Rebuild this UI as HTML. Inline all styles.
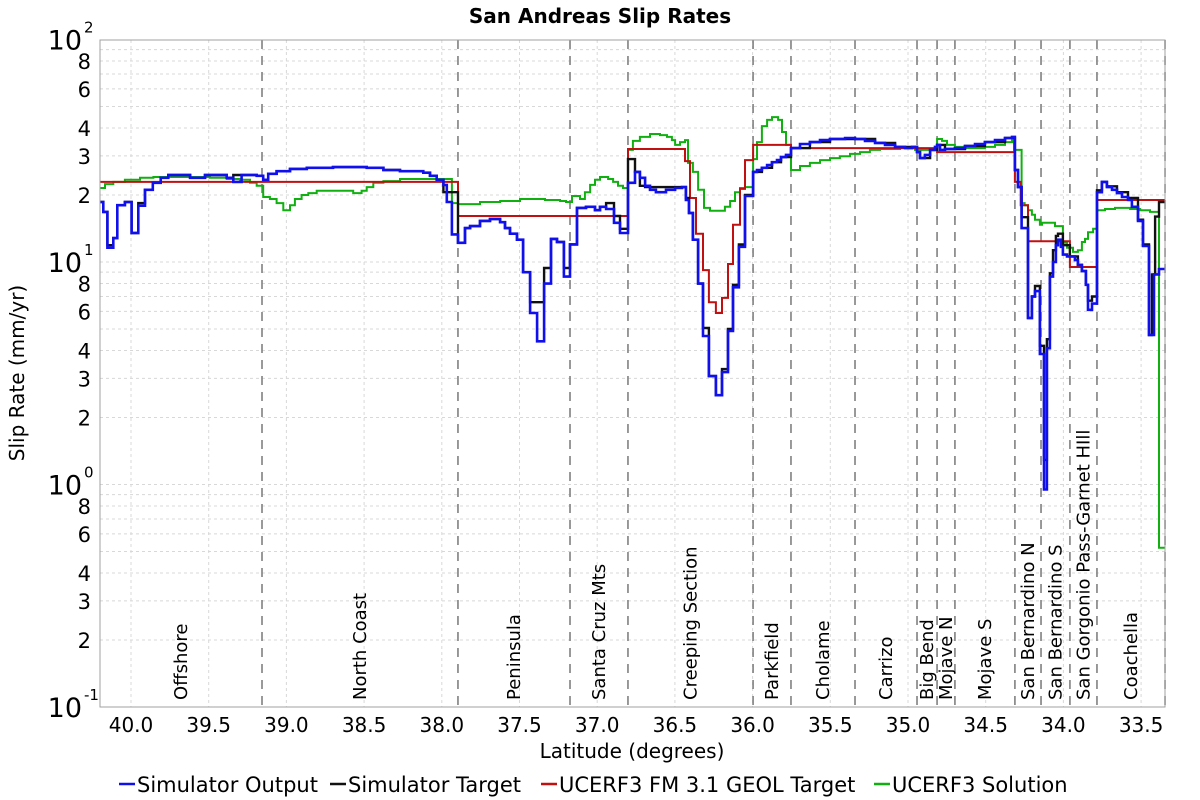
<!DOCTYPE html>
<html><head><meta charset="utf-8"><style>
html,body{margin:0;padding:0;background:#fff;}
svg{display:block;font-family:"DejaVu Sans","Liberation Sans",sans-serif;}
</style></head><body>
<svg id="chart" width="1200" height="800" viewBox="0 0 1200 800" xmlns="http://www.w3.org/2000/svg">
<rect x="0" y="0" width="1200" height="800" fill="#fff"/>
<text x="600" y="23" text-anchor="middle" font-size="20" font-weight="bold">San Andreas Slip Rates</text>
<g id="grid"></g><g id="sections"></g><g id="series"></g><g id="axes"></g>
<text x="632" y="758" text-anchor="middle" font-size="20">Latitude (degrees)</text>
<text transform="translate(24,373) rotate(-90)" text-anchor="middle" font-size="20">Slip Rate (mm/yr)</text>
<g id="legend"></g>
</svg>
<script>
const sectionNames=["Offshore","North Coast","Peninsula","Santa Cruz Mts","Creeping Section","Parkfield","Cholame","Carrizo","Big Bend","Mojave N","Mojave S","San Bernardino N","San Bernardino S","San Gorgonio Pass-Garnet HIll","Coachella"];
const sectionBounds=[40.20,39.157,37.896,37.175,36.802,35.997,35.753,35.341,34.942,34.813,34.698,34.312,34.144,33.958,33.784,33.346];
const xTicks=[40.0,39.5,39.0,38.5,38.0,37.5,37.0,36.5,36.0,35.5,35.0,34.5,34.0,33.5];
const simOutLat=[40.20,40.178,40.152,40.114,40.088,40.039,39.996,39.953,39.910,39.860,39.809,39.760,39.620,39.524,39.384,39.342,39.288,39.191,39.149,39.117,39.063,38.977,38.869,38.700,38.483,38.376,38.269,38.119,38.076,38.033,37.990,37.968,37.935,37.896,37.851,37.818,37.754,37.690,37.625,37.593,37.561,37.516,37.477,37.432,37.387,37.342,37.297,37.259,37.214,37.175,37.130,37.072,37.014,36.982,36.943,36.892,36.853,36.802,36.757,36.725,36.692,36.660,36.622,36.557,36.499,36.454,36.429,36.409,36.384,36.351,36.319,36.281,36.236,36.197,36.158,36.126,36.088,36.049,35.997,35.972,35.940,35.907,35.875,35.843,35.817,35.785,35.753,35.695,35.631,35.566,35.502,35.405,35.341,35.277,35.212,35.148,35.083,35.019,34.974,34.942,34.923,34.891,34.858,34.826,34.813,34.794,34.762,34.698,34.633,34.569,34.505,34.440,34.376,34.331,34.312,34.292,34.269,34.228,34.203,34.183,34.151,34.125,34.106,34.087,34.067,34.048,34.035,34.016,34.003,33.977,33.926,33.907,33.881,33.855,33.842,33.816,33.784,33.752,33.720,33.687,33.655,33.623,33.584,33.559,33.520,33.488,33.449,33.417,33.385,33.346];
const simOutVal=[18.6,16.8,11.6,12.8,18.0,18.6,13.5,17.9,21.1,22.7,23.9,24.6,23.9,24.6,23.9,22.9,24.6,24.4,23.4,24.9,25.6,26.2,26.5,26.7,26.5,25.9,25.6,25.2,24.4,23.4,22.2,18.6,13.3,12.2,14.2,14.5,15.3,15.6,15.1,14.2,13.4,12.6,9.0,5.9,4.4,8.0,12.7,12.3,8.6,12.0,17.5,17.7,17.1,17.7,17.3,15.0,13.5,22.7,25.4,23.9,22.0,21.1,20.6,21.1,21.5,21.7,19.0,16.6,12.6,8.0,4.65,3.07,2.52,3.2,4.9,7.7,11.7,19.8,25.4,25.9,26.5,27.3,28.1,28.7,29.6,30.3,32.5,33.9,34.6,35.3,35.7,36.1,35.7,35.0,34.3,33.6,32.9,32.5,32.9,31.2,29.3,30.3,31.9,32.9,33.6,31.9,32.2,32.5,33.2,33.9,34.6,35.3,36.1,36.5,25.9,21.7,14.2,5.6,7.0,7.4,3.86,0.95,4.1,8.6,10.0,11.9,12.6,11.7,10.8,10.6,10.2,9.7,9.1,7.9,6.1,6.5,20.6,22.9,21.7,21.1,20.4,19.6,19.0,17.7,15.3,11.8,4.7,8.8,9.3,9.3];
const simTgtLat=[40.20,40.178,40.152,40.114,40.088,40.039,39.996,39.953,39.910,39.860,39.809,39.760,39.620,39.524,39.384,39.342,39.288,39.191,39.149,39.117,39.063,38.977,38.869,38.700,38.483,38.376,38.269,38.119,38.076,38.033,37.990,37.896,37.851,37.818,37.754,37.690,37.625,37.593,37.561,37.516,37.477,37.432,37.342,37.297,37.259,37.214,37.175,37.130,37.072,37.014,36.982,36.943,36.892,36.853,36.802,36.757,36.725,36.692,36.454,36.429,36.409,36.384,36.351,36.319,36.281,36.236,36.197,36.158,36.126,36.088,36.049,35.997,35.940,35.875,35.817,35.753,35.631,35.502,35.341,35.212,35.083,34.942,34.923,34.858,34.813,34.762,34.633,34.505,34.376,34.312,34.292,34.269,34.228,34.203,34.183,34.151,34.125,34.106,34.087,34.067,34.048,34.035,34.003,33.958,33.907,33.881,33.855,33.842,33.816,33.784,33.752,33.720,33.655,33.584,33.520,33.488,33.449,33.430,33.410,33.385,33.346];
const simTgtVal=[18.6,16.8,11.9,12.8,18.0,18.6,13.5,18.4,21.1,22.7,23.9,24.6,23.9,24.6,23.9,24.6,24.6,24.4,23.4,24.9,25.6,26.2,26.5,26.7,26.5,25.9,25.6,25.2,24.4,23.4,20.6,12.2,14.2,14.5,15.3,15.6,15.1,14.2,13.4,12.6,9.0,6.6,9.4,12.7,12.3,9.4,12.0,17.5,17.7,17.1,17.7,18.4,16.1,14.1,29.0,25.4,22.0,21.7,21.7,19.4,16.6,12.6,8.0,5.05,3.07,2.52,3.3,5.0,7.9,12.0,20.0,25.4,26.5,28.1,29.6,32.5,34.6,35.7,35.7,34.3,32.9,31.2,29.3,31.9,33.6,32.2,33.2,34.6,36.1,25.9,21.7,15.9,5.6,7.0,7.8,4.2,1.29,4.5,8.9,11.3,13.1,13.4,11.9,10.6,9.7,9.1,7.9,6.7,7.0,21.0,22.9,21.9,20.6,19.4,15.5,12.0,4.7,8.8,16.0,18.6,18.6];
const geolLat=[40.20,37.896,36.802,36.435,36.403,36.364,36.319,36.281,36.236,36.197,36.158,36.126,36.081,36.049,35.997,35.753,34.813,34.312,34.275,34.228,33.958,33.784,33.346];
const geolVal=[22.9,16.1,32.2,28.4,19.4,13.4,9.2,6.6,5.9,6.9,9.8,14.7,21.3,28.7,33.6,32.5,31.2,22.9,18.0,12.4,9.5,19.0,19.0];
const solLat=[40.20,40.167,40.114,40.039,39.942,39.856,39.492,39.384,39.299,39.234,39.191,39.149,39.106,39.063,39.020,38.977,38.945,38.902,38.859,38.805,38.570,38.516,38.483,38.441,38.376,38.269,37.935,37.896,37.754,37.625,37.497,37.336,37.239,37.201,37.162,37.111,37.079,37.046,37.014,36.982,36.930,36.898,36.866,36.834,36.802,36.770,36.725,36.660,36.596,36.551,36.519,36.499,36.467,36.435,36.416,36.384,36.351,36.313,36.274,36.178,36.145,36.113,36.081,36.049,35.997,35.972,35.940,35.907,35.875,35.836,35.811,35.785,35.753,35.695,35.631,35.566,35.502,35.438,35.373,35.309,35.245,35.180,35.051,34.955,34.813,34.781,34.749,34.698,34.633,34.505,34.440,34.376,34.331,34.318,34.269,34.250,34.228,34.203,34.183,34.151,34.138,34.054,34.003,33.977,33.938,33.907,33.881,33.861,33.842,33.809,33.784,33.732,33.668,33.571,33.507,33.443,33.385,33.346];
const solVal=[21.5,22.4,22.9,23.4,23.9,24.1,23.9,23.6,23.4,22.7,22.0,19.6,19.2,18.4,17.1,18.0,19.2,20.0,20.4,20.9,20.4,20.9,21.7,22.7,23.1,23.6,18.4,18.2,18.6,18.8,19.2,19.0,18.8,18.6,19.8,19.2,20.6,22.2,23.4,24.1,23.6,22.9,22.0,21.5,31.9,35.0,36.5,37.6,37.2,36.5,35.3,33.6,34.6,35.3,27.9,25.4,21.1,17.5,17.0,17.7,18.8,20.6,21.5,21.7,29.0,34.6,40.8,43.5,44.8,43.5,38.4,33.6,25.9,27.0,27.9,28.7,29.3,29.9,30.6,31.2,31.9,32.2,32.5,31.9,35.7,35.0,33.6,32.9,32.5,32.9,33.6,34.6,35.3,31.9,18.4,18.0,17.1,16.3,15.5,14.7,15.0,14.5,12.2,11.6,11.1,11.3,12.3,12.7,13.6,14.1,17.1,17.3,17.5,17.3,17.1,16.8,0.52,0.52];
const yTickVals=[0.1,1,10,100];
const yTickExp=["-1","0","1","2"];

const NS="http://www.w3.org/2000/svg";
const L=100,R=1165,T=40,B=707;
const xs=lat=>131+(40-lat)*155.4;
const ys=v=>262-(Math.log10(v)-1)*222.5;
function mk(tag,attrs,parent){const e=document.createElementNS(NS,tag);for(const k in attrs)e.setAttribute(k,attrs[k]);parent.appendChild(e);return e;}
const grid=document.getElementById('grid'),sec=document.getElementById('sections'),ser=document.getElementById('series'),ax=document.getElementById('axes'),leg=document.getElementById('legend');

xTicks.forEach(t=>{const l=mk('line',{x1:xs(t),x2:xs(t),y1:T,y2:B,stroke:'#d8d8d8','stroke-dasharray':'3,3'},grid);

});
for(let d=-1;d<2;d++){for(let m=2;m<=9;m++){const v=m*Math.pow(10,d);const l=mk('line',{x1:L,x2:R,y1:ys(v),y2:ys(v),stroke:'#d8d8d8','stroke-dasharray':'3,3'},grid);

}}
yTickVals.forEach(v=>{if(v<100&&v>0.1){const l=mk('line',{x1:L,x2:R,y1:ys(v),y2:ys(v),stroke:'#d8d8d8','stroke-dasharray':'3,3'},grid);

}});

for(let i=1;i<sectionBounds.length;i++){const x=xs(sectionBounds[i]);const l=mk('line',{x1:x,x2:x,y1:T,y2:B,stroke:'#808080','stroke-width':1.6,'stroke-dasharray':'9,7'},sec);

}
sectionNames.forEach((n,i)=>{const xm=(xs(sectionBounds[i])+xs(sectionBounds[i+1]))/2+6;const t=mk('text',{transform:`translate(${xm},700) rotate(-90)`,'font-size':18},sec);t.textContent=n;

});

function step(lats,vals,color,w,name){let d='';for(let i=0;i<lats.length-1;i++){const x0=xs(lats[i]),x1=xs(lats[i+1]),y=ys(vals[i]);d+=(i===0?'M':'L')+x0.toFixed(1)+','+y.toFixed(1)+'L'+x1.toFixed(1)+','+y.toFixed(1);}
const p=mk('path',{d:d,fill:'none',stroke:color,'stroke-width':w,'stroke-linejoin':'miter'},ser);

}
step(solLat,solVal,'#11b011',2,'ucerf3-solution-line');
step(geolLat,geolVal,'#c01010',2,'geol-target-line');
step(simTgtLat,simTgtVal,'#111',2.4,'simulator-target-line');
step(simOutLat,simOutVal,'#1010ee',2.6,'simulator-output-line');

mk('rect',{x:L,y:T,width:R-L,height:B-T,fill:'none',stroke:'#a0a0a0'},ax);
xTicks.forEach(t=>{const x=xs(t);const tx=mk('text',{x:x,y:732,'text-anchor':'middle','font-size':20},ax);tx.textContent=t.toFixed(1);

});
yTickVals.forEach((v,i)=>{const y=ys(v);const t=mk('text',{x:82,y:y+10,'text-anchor':'end','font-size':27},ax);t.textContent='10';


const s=mk('text',{x:84,y:y-7,'font-size':15},ax);s.textContent=yTickExp[i];

});
for(let d=-1;d<2;d++){[2,3,4,6,8].forEach(m=>{const v=m*Math.pow(10,d);const t=mk('text',{x:91,y:ys(v)+8,'text-anchor':'end','font-size':21},ax);t.textContent=m;

});}

const legNames=["Simulator Output","Simulator Target","UCERF3 FM 3.1 GEOL Target","UCERF3 Solution"];
const legColors=['#1010ee','#111','#c01010','#11b011'];
const legX=[119,330,541,874];
legNames.forEach((n,i)=>{const g=mk('g',{},leg);


mk('line',{x1:legX[i],x2:legX[i]+16,y1:784,y2:784,stroke:legColors[i],'stroke-width':2.5},g);
const t=mk('text',{x:legX[i]+18,y:792,'font-size':21},g);t.textContent=n;});
</script>
</body></html>
